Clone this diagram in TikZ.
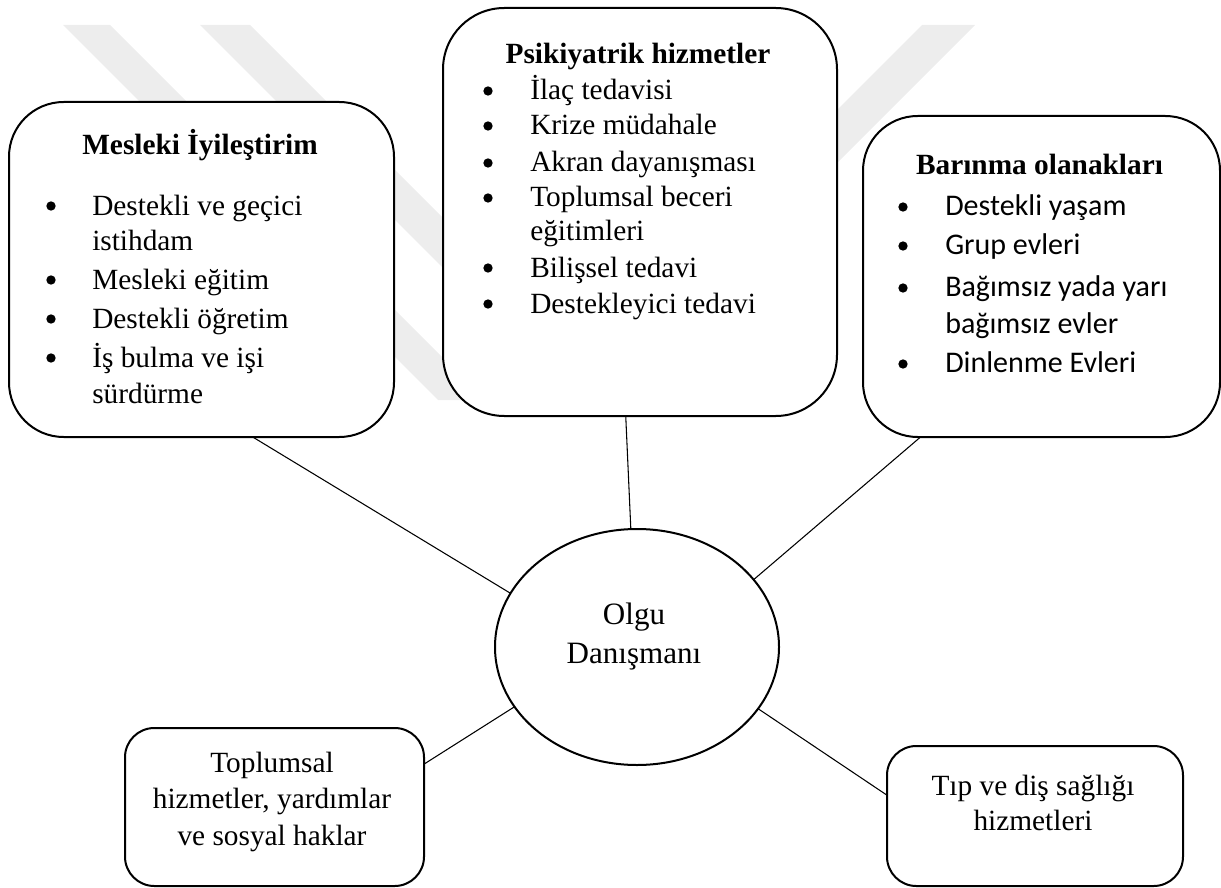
\documentclass[tikz,border=0pt]{standalone}
\usepackage{fontspec}
\setmainfont{Liberation Serif}
\newfontfamily\calfont{Carlito}
\usetikzlibrary{shapes.geometric}
\begin{document}
\begin{tikzpicture}[x=0.75pt,y=-0.75pt,
  box/.style={draw, line width=1.5pt, fill=white, rectangle, inner sep=0pt, outer sep=0pt},
  txt/.style={anchor=base west, inner sep=0pt, font=\fontsize{22}{26}\selectfont},
  ctxt/.style={anchor=base, inner sep=0pt, font=\fontsize{22}{26}\selectfont},
  hdr/.style={anchor=base, inner sep=0pt, font=\fontsize{22}{26}\selectfont\bfseries},
  caltxt/.style={anchor=base west, inner sep=0pt, font=\calfont\fontsize{22.5}{26}\selectfont},
  conn/.style={line width=0.8pt},
  wm/.style={fill=black!7, draw=none},
  dot/.style={circle, fill=black, draw=none, inner sep=0pt, minimum size=7pt}
]
\useasboundingbox (0,0) rectangle (1221,888);
% watermark
\fill[wm] (63,25) -- (110,25) -- (485,400) -- (438,400) -- cycle;
\fill[wm] (200,25) -- (250,25) -- (625,400) -- (575,400) -- cycle;
\fill[wm] (922,25) -- (975,25) -- (600,400) -- (547,400) -- cycle;

% boxes
\node[box, minimum width=288.75pt, minimum height=251.25pt, rounded corners=41pt] (mes) at (201.5,269.5) {};
\node[box, minimum width=295.5pt, minimum height=306pt, rounded corners=46pt] (psi) at (640,212) {};
\node[box, minimum width=267.75pt, minimum height=240.75pt, rounded corners=41pt] (bar) at (1041.5,276.5) {};
\node[box, ellipse, minimum width=213pt, minimum height=177pt] (olgu) at (637,647) {};
\node[box, minimum width=224.25pt, minimum height=118.5pt, rounded corners=22pt] (top) at (274.5,807) {};
\node[box, minimum width=222pt, minimum height=105pt, rounded corners=22pt] (tip) at (1035,816) {};

% connectors
\draw[conn] (mes.-73.5) -- (olgu.157);
\draw[conn] (psi.266.6) -- (olgu.93.4);
\draw[conn] (bar.233.6) -- (olgu.30);
\draw[conn] (top.16.4) -- (olgu.206.4);
\draw[conn] (tip.172) -- (olgu.333);

% Mesleki
\node[hdr] (mesh) at (200,155) {Mesleki İyileştirim};
\node[txt] (m1) at (92,215) {Destekli ve geçici};
\node[txt] (m1b) at (92,250) {istihdam};
\node[txt] (m2) at (92,289) {Mesleki eğitim};
\node[txt] (m3) at (92,328) {Destekli öğretim};
\node[txt] (m4) at (92,367) {İş bulma ve işi};
\node[txt] (m4b) at (92,403) {sürdürme};
\node[dot] (mb1) at (51,206) {};
\node[dot] (mb2) at (51,280) {};
\node[dot] (mb3) at (51,319) {};
\node[dot] (mb4) at (51,358) {};

% Psikiyatrik
\node[hdr] (psih) at (638,64) {Psikiyatrik hizmetler};
\node[txt] (p1) at (530,100) {İlaç tedavisi};
\node[txt] (p2) at (530,135) {Krize müdahale};
\node[txt] (p3) at (530,172) {Akran dayanışması};
\node[txt] (p4) at (530,207) {Toplumsal beceri};
\node[txt] (p4b) at (530,240) {eğitimleri};
\node[txt] (p5) at (530,277) {Bilişsel tedavi};
\node[txt] (p6) at (530,313) {Destekleyici tedavi};
\node[dot] (pb1) at (488,91) {};
\node[dot] (pb2) at (488,126) {};
\node[dot] (pb3) at (488,163) {};
\node[dot] (pb4) at (488,198) {};
\node[dot] (pb5) at (488,268) {};
\node[dot] (pb6) at (488,304) {};

% Barinma
\node[hdr] (barh) at (1039.5,175) {Barınma olanakları};
\node[caltxt] (b1) at (945,215) {Destekli yaşam};
\node[caltxt] (b2) at (945,254) {Grup evleri};
\node[caltxt] (b3) at (945,296) {Bağımsız yada yarı};
\node[caltxt] (b3b) at (945,333) {bağımsız evler};
\node[caltxt] (b4) at (945,372) {Dinlenme Evleri};
\node[dot] (bb1) at (903,207) {};
\node[dot] (bb2) at (903,246) {};
\node[dot] (bb3) at (903,288) {};
\node[dot] (bb4) at (903,364) {};

% Olgu
\node[ctxt, font=\fontsize{23.3}{28}\selectfont] (o1) at (634,624) {Olgu};
\node[ctxt, font=\fontsize{23.3}{28}\selectfont] (o2) at (634,663) {Danışmanı};

% Toplumsal
\node[ctxt] (t1) at (272,772) {Toplumsal};
\node[ctxt] (t2) at (272,808) {hizmetler, yardımlar};
\node[ctxt] (t3) at (272,845) {ve sosyal haklar};

% Tip
\node[ctxt] (d1) at (1033,795) {Tıp ve diş sağlığı};
\node[ctxt] (d2) at (1033,830) {hizmetleri};
\end{tikzpicture}
\end{document}
